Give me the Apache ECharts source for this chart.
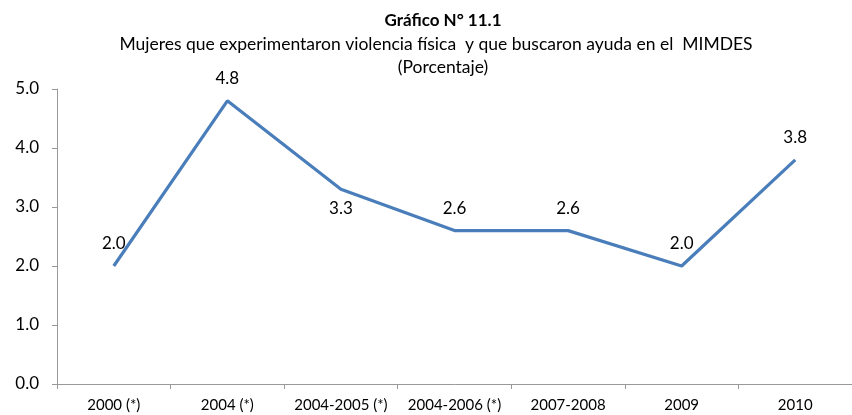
<!DOCTYPE html>
<html>
<head>
<meta charset="utf-8">
<script src="https://cdn.jsdelivr.net/npm/echarts@6/dist/echarts.min.js"></script>
<style>
html, body { margin: 0; padding: 0; background: #fff; }
#container { width: 852px; height: 415px; }
</style>
</head>
<body>
<div id="container"></div>
<script>
var categories = ['2000 (*)', '2004 (*)', '2004-2005 (*)', '2004-2006 (*)', '2007-2008', '2009', '2010'];
var values = [2.0, 4.8, 3.3, 2.6, 2.6, 2.0, 3.8];
var labelBelow = [false, false, true, false, false, false, false];

var dom = document.getElementById('container');
var myChart = echarts.init(dom);
var fontFam = 'Lato, "Open Sans", sans-serif';

var option = {
    animation: false,
    title: [
        {
            text: 'Gráfico N° 11.1',
            left: 438, top: 7, textAlign: 'center',
            textStyle: { fontFamily: fontFam, fontSize: 17, fontWeight: 'bold', color: '#000' }
        },
        {
            text: 'Mujeres que experimentaron violencia física  y que buscaron ayuda en el  MIMDES',
            left: 431, top: 30, textAlign: 'center',
            textStyle: { fontFamily: fontFam, fontSize: 17.5, fontWeight: 'normal', color: '#000' }
        },
        {
            text: '(Porcentaje)',
            left: 438, top: 53, textAlign: 'center',
            textStyle: { fontFamily: fontFam, fontSize: 17.5, fontWeight: 'normal', color: '#000' }
        }
    ],
    grid: { left: 57, top: 89, width: 802, height: 295, containLabel: false },
    xAxis: {
        type: 'category',
        data: categories,
        boundaryGap: true,
        axisLine: { lineStyle: { color: '#999', width: 1 } },
        axisTick: { show: true, alignWithLabel: false, length: 5, lineStyle: { color: '#999' } },
        axisLabel: { color: '#000', fontFamily: fontFam, fontSize: 15, margin: 14, interval: 0 },
        splitLine: { show: false }
    },
    yAxis: {
        type: 'value',
        min: 0, max: 5, interval: 1,
        axisLine: { show: true, lineStyle: { color: '#999', width: 1 } },
        axisTick: { show: true, length: 5, lineStyle: { color: '#999' } },
        axisLabel: { color: '#000', fontFamily: fontFam, fontSize: 17, margin: 18,
            formatter: function (v) { return v.toFixed(1); } },
        splitLine: { show: false }
    },
    series: [
        {
            type: 'line',
            data: values.map(function (v, i) {
                return {
                    value: v,
                    label: { position: labelBelow[i] ? 'bottom' : 'top', distance: labelBelow[i] ? 11 : 14 }
                };
            }),
            symbol: 'circle',
            symbolSize: 0,
            showSymbol: true,
            lineStyle: { color: '#4a7ebb', width: 3.2 },
            itemStyle: { color: '#4a7ebb' },
            label: {
                show: true,
                color: '#000',
                fontFamily: fontFam,
                fontSize: 17,
                formatter: function (p) { return p.value.toFixed(1); }
            }
        }
    ]
};
myChart.setOption(option, true);
</script>
</body>
</html>
